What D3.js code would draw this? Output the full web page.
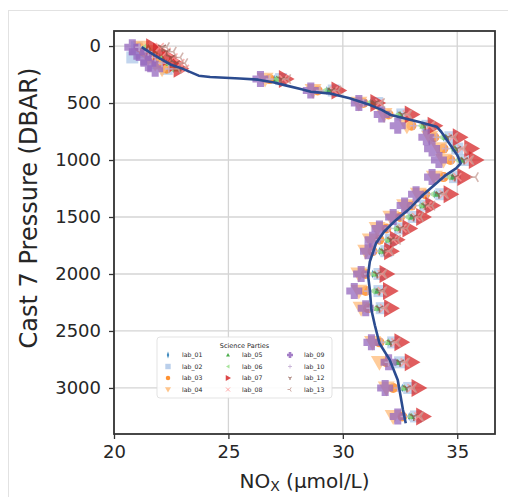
<!DOCTYPE html>
<html><head><meta charset="utf-8">
<script src="https://cdn.jsdelivr.net/npm/d3@7"></script>
<style>body{margin:0;background:#fff} svg{display:block} text{font-family:"DejaVu Sans",sans-serif;fill:#262626}</style>
</head><body><svg id="c" width="508" height="497"></svg>
<script>
// ---------------- DATA ----------------
const pressure = [10, 50, 100, 150, 200, 290, 390, 500, 600, 700, 800, 900, 1000, 1150, 1300, 1400, 1500, 1600, 1700, 1800, 2000, 2150, 2300, 2600, 2775, 3000, 3250];
const labNames = ["lab_01","lab_02","lab_03","lab_04","lab_05","lab_06","lab_07","lab_08","lab_09","lab_10","lab_12","lab_13"];
const lab01 = [21.4, 21.7, 22.0, 22.3, 22.6, 27.0, 29.3, 31.2, 32.4, 33.5, 34.4, 34.8, 35.1, 34.8, 34.0, 33.4, 32.9, 32.3, 31.9, 31.6, 31.3, 31.4, 31.5, 32.0, 32.3, 32.6, 32.9];
const lab02 = [21.0, 21.2, 20.8, 21.9, 22.3, 27.3, 29.6, 31.5, 32.6, 33.7, 34.7, 35.0, 35.3, 34.9, 34.3, 33.6, 33.1, 32.5, 32.1, 31.9, 31.6, 31.6, 31.7, 32.2, 32.5, 32.9, 33.2];
const lab03 = [21.1, 21.3, 21.7, 22.0, 22.3, 26.8, 28.9, 30.9, 32.0, 33.0, 34.0, 34.4, 34.7, 34.4, 33.6, 33.0, 32.5, 31.9, 31.6, 31.3, 31.0, 31.0, 31.1, 31.6, 31.9, 32.2, 32.6];
const lab04 = [21.2, 21.4, 21.5, 21.8, 22.1, 26.6, 28.7, 30.7, 31.8, 32.8, 33.8, 34.2, 34.4, 34.0, 33.3, 32.7, 32.1, 31.5, 31.2, 31.0, 30.7, 30.7, 30.8, 31.3, 31.6, 31.9, 32.2];
const lab05 = [21.5, 21.8, 22.1, 22.4, 22.7, 27.1, 29.4, 31.3, 32.5, 33.5, 34.5, 34.9, 35.2, 34.8, 34.1, 33.5, 33.0, 32.4, 32.0, 31.7, 31.4, 31.5, 31.5, 32.0, 32.4, 32.7, 33.0];
const lab06 = [21.3, 21.6, 22.0, 22.3, 22.5, 27.1, 29.2, 31.1, 32.4, 33.4, 34.3, 34.8, 35.0, 34.6, 33.9, 33.4, 32.8, 32.3, 31.9, 31.6, 31.3, 31.3, 31.4, 31.9, 32.2, 32.6, 32.9];
const lab07 = [21.7, 22.0, 22.4, 22.7, 22.9, 27.5, 29.8, 31.5, 33.0, 34.0, 35.1, 35.6, 35.8, 35.3, 34.7, 33.9, 33.5, 32.9, 32.35, 32.1, 31.9, 32.05, 32.1, 32.55, 33.0, 33.3, 33.5];
const lab08 = [22.0, 22.3, 22.6, 22.9, 23.1, 27.4, 29.6, 31.6, 32.8, 33.8, 34.8, 35.2, 35.5, 35.0, 34.4, 33.7, 33.2, 32.6, 32.2, 32.0, 31.7, 31.7, 31.8, 32.3, 32.7, 33.0, 33.3];
const lab09 = [20.8, 21.0, 21.3, 21.5, 21.8, 26.4, 28.6, 30.7, 31.7, 32.4, 33.65, 33.9, 34.2, 33.9, 33.2, 32.7, 32.2, 31.6, 31.3, 31.1, 30.8, 30.5, 31.0, 31.25, 32.0, 31.85, 32.4];
const lab10 = [21.1, 21.5, 21.8, 22.1, 22.4, 26.8, 29.0, 30.9, 32.1, 33.1, 34.1, 34.5, 34.8, 34.4, 33.7, 33.1, 32.6, 32.0, 31.6, 31.4, 31.1, 31.1, 31.2, 31.7, 32.0, 32.4, 32.7];
const lab12 = [22.1, 22.3, 22.5, 22.7, 22.9, 27.3, 29.5, 31.4, 32.6, 33.6, 34.6, 35.0, 35.3, 34.9, 34.2, 33.6, 33.1, 32.5, 32.1, 31.8, 31.5, 31.6, 31.6, 32.1, 32.5, 32.8, 33.1];
const lab13 = [22.3, 22.6, 22.9, 23.1, 22.8, 27.6, 29.8, 31.7, 32.9, 33.9, 34.9, 35.3, 35.6, 35.8, 34.5, 33.9, 33.4, 32.8, 32.4, 32.1, 31.8, 31.8, 31.9, 32.4, 32.8, 33.1, 33.4];
// mean profile line
const lineP = [10, 60, 108, 167, 196, 260, 272, 285, 295, 320, 345, 380, 401, 415, 459, 518, 560, 605, 664, 708, 752, 868, 956, 1029, 1073, 1132, 1219, 1307, 1439, 1530, 1629, 1731, 1892, 2009, 2140, 2316, 2450, 2608, 2754, 2930, 3193, 3310];
const lineV = [21.21, 21.6, 22.0, 22.52, 22.96, 23.7, 24.2, 25.5, 26.3, 27.0, 27.5, 28.2, 28.6, 29.4, 30.3, 31.2, 31.7, 32.1, 33.3, 34.1, 34.3, 34.7, 35.0, 35.15, 34.95, 34.5, 34.0, 33.5, 32.85, 32.3, 31.8, 31.45, 31.18, 31.1, 31.18, 31.25, 31.4, 31.6, 32.05, 32.4, 32.63, 32.75];
const xTicks = [20, 25, 30, 35];
const yTicks = [0, 500, 1000, 1500, 2000, 2500, 3000];
const legendTitle = "Science Parties";
const xLabel = "NO", xSub = "X", xLabelRest = " (µmol/L)";
const yLabel = "Cast 7 Pressure (DBAR)";

const labValues = [lab01, lab02, lab03, lab04, lab05, lab06, lab07, lab08, lab09, lab10, lab12, lab13];

// ---------------- STYLE ----------------
const styles = [
  {color:"#1f77b4", shape:"thinDiamond", size:5},
  {color:"#aec7e8", shape:"square", size:12},
  {color:"#ff7f0e", shape:"circle", size:10},
  {color:"#ffbb78", shape:"triDown", size:17},
  {color:"#2ca02c", shape:"triUp", size:7},
  {color:"#98df8a", shape:"triLeft", size:7},
  {color:"#d62728", shape:"triRight", size:18},
  {color:"#ff9896", shape:"x", size:8},
  {color:"#9467bd", shape:"plusFilled", size:16},
  {color:"#c5b0d5", shape:"plus", size:8},
  {color:"#8c564b", shape:"tri1", size:9},
  {color:"#c49c94", shape:"tri3", size:11}
];

function shapePath(shape, s) {
  const h = s/2;
  switch(shape) {
    case "thinDiamond": return `M0,${-s*0.9}L${h*0.6},0L0,${s*0.9}L${-h*0.6},0Z`;
    case "square": return `M${-h},${-h}H${h}V${h}H${-h}Z`;
    case "circle": return d3.symbol(d3.symbolCircle, Math.PI*h*h)();
    case "triUp": return `M0,${-h}L${h},${h*0.75}L${-h},${h*0.75}Z`;
    case "triDown": return `M0,${h}L${h},${-h*0.75}L${-h},${-h*0.75}Z`;
    case "triRight": return `M${h},0L${-h*0.75},${h}L${-h*0.75},${-h}Z`;
    case "triLeft": return `M${-h},0L${h*0.75},${h}L${h*0.75},${-h}Z`;
    case "plusFilled": { const t = s*0.22; return `M${-t},${-h}H${t}V${-t}H${h}V${t}H${t}V${h}H${-t}V${t}H${-h}V${-t}H${-t}Z`; }
    case "x": return `M${-h},${-h}L${h},${h}M${-h},${h}L${h},${-h}`;
    case "plus": return `M${-h},0H${h}M0,${-h}V${h}`;
    case "tri1": return `M0,0V${h}M0,0L${-h*0.87},${-h*0.5}M0,0L${h*0.87},${-h*0.5}`;
    case "tri3": return `M0,0H${-h}M0,0L${h*0.5},${-h*0.87}M0,0L${h*0.5},${h*0.87}`;
  }
}
const stroked = new Set(["x","plus","tri1","tri3"]);

// ---------------- CHART ----------------
const svg = d3.select("#c");
svg.append("rect").attr("x",8.5).attr("y",10.5).attr("width",520).attr("height",520)
  .attr("fill","none").attr("stroke","#e2e2e2");

const L=114, R=495, T=31, B=434;
const x = d3.scaleLinear().domain([20, 36.65]).range([L, R]);
const y = d3.scaleLinear().domain([-132, 3404]).range([T, B]);

svg.append("defs").append("clipPath").attr("id","clip")
  .append("rect").attr("x",L).attr("y",T).attr("width",R-L).attr("height",B-T);

// grid
const grid = svg.append("g").attr("stroke","#d4d4d4").attr("stroke-width",1.3);
grid.selectAll(".gx").data(xTicks).join("line")
  .attr("x1",d=>x(d)).attr("x2",d=>x(d)).attr("y1",T).attr("y2",B);
grid.selectAll(".gy").data(yTicks).join("line")
  .attr("y1",d=>y(d)).attr("y2",d=>y(d)).attr("x1",L).attr("x2",R);

// axes
const xAxis = svg.append("g").attr("transform",`translate(0,${B})`)
  .call(d3.axisBottom(x).tickValues(xTicks).tickSize(5).tickPadding(6).tickFormat(d3.format("d")));
const yAxis = svg.append("g").attr("transform",`translate(${L},0)`)
  .call(d3.axisLeft(y).tickValues(yTicks).tickSize(5).tickPadding(8).tickFormat(d3.format("d")));
[xAxis,yAxis].forEach(a=>{
  a.select(".domain").remove();
  a.selectAll(".tick line").attr("stroke","#333").attr("stroke-width",1.3);
  a.selectAll(".tick text").attr("font-size",18).attr("font-family","DejaVu Sans").attr("fill","#262626");
});

// markers
const plot = svg.append("g").attr("clip-path","url(#clip)");
labValues.forEach((vals, i) => {
  const st = styles[i];
  const g = plot.append("g");
  g.selectAll("path").data(vals.map((v,k)=>({v, p: pressure[k]}))).join("path")
    .attr("transform", d=>`translate(${x(d.v)},${y(d.p)})`)
    .attr("d", shapePath(st.shape, st.size))
    .attr("fill", stroked.has(st.shape) ? "none" : st.color)
    .attr("stroke", stroked.has(st.shape) ? st.color : "none")
    .attr("stroke-width", 1.6)
    .attr("stroke-linejoin","round")
    .attr("opacity", 0.75);
});

// mean line
plot.append("path")
  .attr("d", d3.line().x((d,i)=>x(lineV[i])).y(d=>y(d))(lineP))
  .attr("fill","none").attr("stroke","#2b4b8f").attr("stroke-width",2.6)
  .attr("stroke-linejoin","round");

// frame
svg.append("rect").attr("x",L).attr("y",T).attr("width",R-L).attr("height",B-T)
  .attr("fill","none").attr("stroke","#333").attr("stroke-width",1.8);

// axis labels
const xl = svg.append("text").attr("x",(L+R)/2).attr("y",488).attr("text-anchor","middle")
  .attr("font-size",20);
xl.append("tspan").text(xLabel);
xl.append("tspan").attr("font-size",14).attr("dy",3).text(xSub);
xl.append("tspan").attr("dy",-3).text(xLabelRest);

svg.append("text").attr("transform",`translate(37,208) rotate(-90)`)
  .attr("text-anchor","middle").attr("font-size",24).text(yLabel);

// legend
const lg = svg.append("g");
lg.append("rect").attr("x",157).attr("y",337).attr("width",175).attr("height",61).attr("rx",3)
  .attr("fill","#fff").attr("fill-opacity",0.9).attr("stroke","#dcdcdc").attr("stroke-width",0.8);
lg.append("text").attr("x",244.5).attr("y",347.5).attr("text-anchor","middle").attr("font-size",6.5).text(legendTitle);
const colX = [168, 228, 290], rowY = [355, 366.5, 378, 389.5];
labNames.forEach((name, i) => {
  const c = Math.floor(i/4), r = i%4;
  const st = styles[i];
  const ms = Math.max(4, Math.min(6, st.size*0.45));
  lg.append("path").attr("transform",`translate(${colX[c]},${rowY[r]})`)
    .attr("d", shapePath(st.shape, ms))
    .attr("fill", stroked.has(st.shape) ? "none" : st.color)
    .attr("stroke", stroked.has(st.shape) ? st.color : "none")
    .attr("stroke-width", 1).attr("opacity",0.85);
  lg.append("text").attr("x", colX[c]+14).attr("y", rowY[r]+2.2).attr("font-size",6.2).text(name);
});
</script></body></html>
